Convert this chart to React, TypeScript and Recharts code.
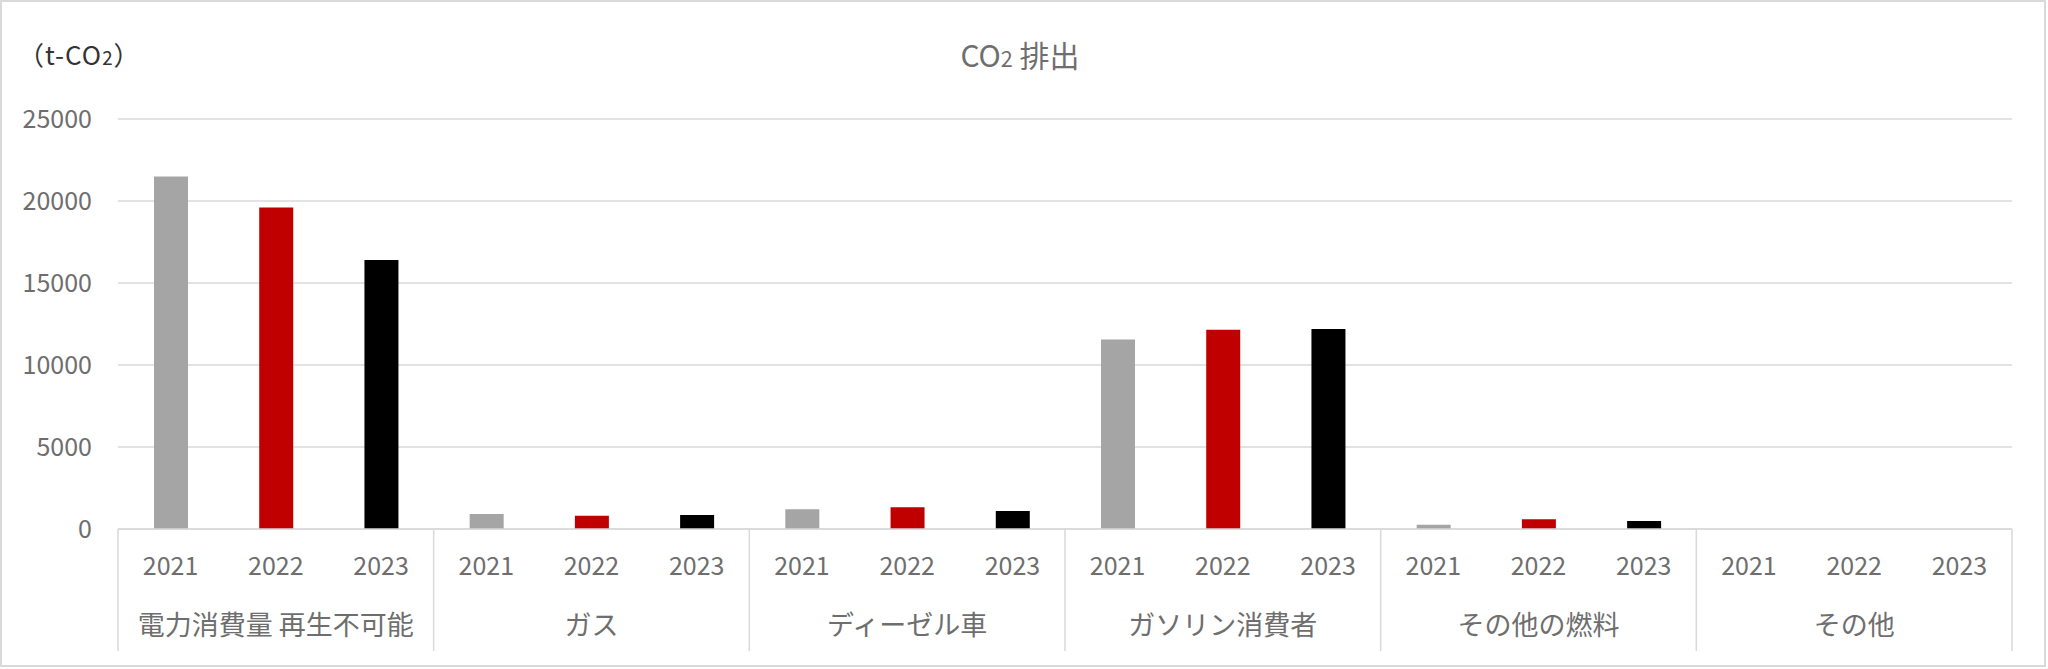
import React from 'react';
import { BarChart, Bar, Cell, XAxis, YAxis, CartesianGrid } from 'recharts';

const categories = ['電力消費量 再生不可能', 'ガス', 'ディーゼル車', 'ガソリン消費者', 'その他の燃料', 'その他'];
const years = ['2021', '2022', '2023'];
const values2021 = [21500, 920, 1200, 11550, 260, 0];
const values2022 = [19600, 810, 1320, 12150, 590, 0];
const values2023 = [16400, 850, 1100, 12200, 490, 0];
const yTicks = [0, 5000, 10000, 15000, 20000, 25000];
const yearColors = ['#A5A5A5', '#C00000', '#000000'];

const seriesByYear = [values2021, values2022, values2023];

const rows = categories.flatMap((category, ci) =>
  years.map((year, yi) => ({
    key: `${category}-${year}`,
    category,
    year,
    yearIndex: yi,
    value: seriesByYear[yi][ci],
  }))
);

const W = 2048;
const H = 669;
const margin = { top: 119, right: 36, left: 0, bottom: 19 };
const Y_AXIS_W = 118;
const X_AXIS_H = 121;
const PLOT_W = W - margin.left - margin.right - Y_AXIS_W;
const BAND = PLOT_W / rows.length;

const FONT = '"Noto Sans CJK JP", "Noto Sans", sans-serif';
const TEXT = '#6E6E6E';
const LINE = '#D9D9D9';

function YearTick(props: any) {
  const { x, y } = props;
  const index = props.index ?? props.payload?.index ?? 0;
  const row = rows[index];
  if (!row) return null;
  const first = index % years.length === 0;
  const middle = index % years.length === 1;
  const last = index === rows.length - 1;
  return (
    <g>
      <text x={x} y={y + 37} dy="0.35em" textAnchor="middle" fill={TEXT} fontSize={25} fontFamily={FONT}>
        {row.year}
      </text>
      {middle && (
        <text x={x} y={y + 97} dy="0.35em" textAnchor="middle" fill={TEXT} fontSize={27} fontFamily={FONT}>
          {row.category}
        </text>
      )}
      {first && <line x1={x - BAND / 2} x2={x - BAND / 2} y1={y} y2={y + 122} stroke={LINE} strokeWidth={1.5} />}
      {last && <line x1={x + BAND / 2} x2={x + BAND / 2} y1={y} y2={y + 122} stroke={LINE} strokeWidth={1.5} />}
    </g>
  );
}

export default function App() {
  return (
    <div style={{ position: 'relative', width: W, height: H, background: '#fff', fontFamily: FONT }}>
      <style>{'body{margin:0}'}</style>
      <div
        style={{
          position: 'absolute', left: 0, top: 0, width: W - 2, height: H - 2,
          border: `2px solid ${LINE}`, boxSizing: 'border-box', pointerEvents: 'none',
        }}
      />
      <div style={{ position: 'absolute', left: 18, top: 34, height: 40, lineHeight: '40px', fontSize: 26, letterSpacing: 1, color: '#333333', whiteSpace: 'nowrap' }}>
        （t-CO<span style={{ fontSize: '0.72em' }}>2</span>）
      </div>
      <div style={{ position: 'absolute', left: -4, width: W, top: 34, height: 40, lineHeight: '40px', fontSize: 30, color: TEXT, textAlign: 'center', whiteSpace: 'nowrap' }}>
        CO<span style={{ fontSize: '0.72em' }}>2</span> 排出
      </div>
      <BarChart width={W} height={H} data={rows} margin={margin}>
        <CartesianGrid vertical={false} stroke={LINE} strokeWidth={1.5} />
        <XAxis
          dataKey="key"
          interval={0}
          tickSize={0}
          tickMargin={0}
          tickLine={false}
          axisLine={{ stroke: LINE, strokeWidth: 1.5 }}
          height={X_AXIS_H}
          tick={YearTick}
        />
        <YAxis
          width={Y_AXIS_W}
          domain={[0, 25000]}
          ticks={yTicks}
          tickSize={0}
          tickMargin={26}
          tickLine={false}
          axisLine={false}
          tick={{ fill: TEXT, fontSize: 25, fontFamily: FONT }}
        />
        <Bar dataKey="value" barSize={34} isAnimationActive={false}>
          {rows.map((r) => (
            <Cell key={r.key} fill={yearColors[r.yearIndex]} />
          ))}
        </Bar>
      </BarChart>
    </div>
  );
}
